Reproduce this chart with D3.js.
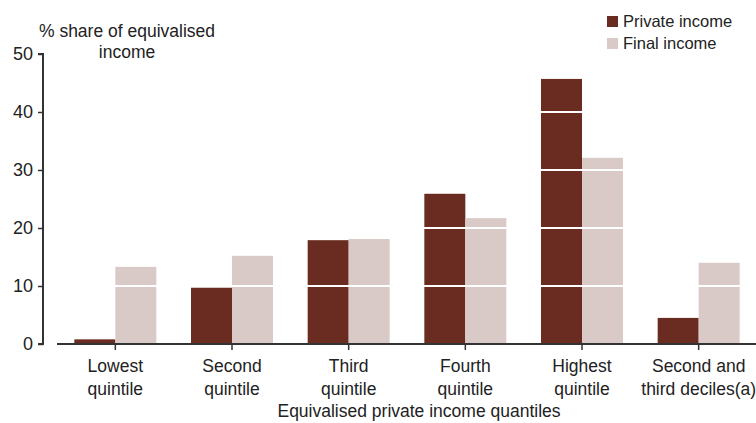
<!DOCTYPE html>
<html>
<head>
<meta charset="utf-8">
<script src="https://cdn.jsdelivr.net/npm/d3@7"></script>
<style>
  body { margin: 0; background: #fff; }
  text { font-family: "Liberation Sans", Arial, sans-serif; fill: #222; }
</style>
</head>
<body>
<svg id="chart" width="756" height="423"></svg>
<script>
// categories (two-line labels)
var categories = ["Lowest quintile", "Second quintile", "Third quintile", "Fourth quintile", "Highest quintile", "Second and third deciles(a)"]
var labelLines = [["Lowest", "quintile"], ["Second", "quintile"], ["Third", "quintile"], ["Fourth", "quintile"], ["Highest", "quintile"], ["Second and", "third deciles(a)"]]
var privateIncome = [0.8, 9.7, 17.9, 25.9, 45.7, 4.5]
var finalIncome = [13.3, 15.2, 18.1, 21.7, 32.1, 14.0]
var series = ["Private income", "Final income"]
var yTicks = [0, 10, 20, 30, 40, 50]

var colors = { "Private income": "#6a2b20", "Final income": "#d9c9c7" }

var svg = d3.select("#chart")
var plotLeft = 57, plotRight = 757, plotTop = 54, plotBottom = 344

var x = d3.scaleBand().domain(categories).range([plotLeft, plotRight])
var y = d3.scaleLinear().domain([0, 50]).range([plotBottom, plotTop])

// two bars of 41px side by side, centred in each band
var barW = 41
var rows = categories.map(function (c, i) {
  return { cat: c, vals: [privateIncome[i], finalIncome[i]] }
})

svg.append("g")
  .selectAll("g.cat")
  .data(rows)
  .enter()
  .append("g")
  .attr("class", "cat")
  .attr("transform", function (d) { return "translate(" + (x(d.cat) + x.bandwidth() / 2) + ",0)" })
  .selectAll("rect")
  .data(function (d) { return d.vals.map(function (v, j) { return { s: series[j], v: v, j: j } }) })
  .enter()
  .append("rect")
  .attr("x", function (d) { return d.j == 0 ? -barW : 0 })
  .attr("width", barW)
  .attr("y", function (d) { return y(d.v) })
  .attr("height", function (d) { return plotBottom - y(d.v) })
  .attr("fill", function (d) { return colors[d.s] })

// white gridlines drawn over bars
svg.append("g")
  .selectAll("line")
  .data(yTicks.filter(function (t) { return t > 0 && t < 50 }))
  .enter()
  .append("line")
  .attr("x1", plotLeft).attr("x2", plotRight)
  .attr("y1", function (d) { return y(d) }).attr("y2", function (d) { return y(d) })
  .attr("stroke", "#fff").attr("stroke-width", 2)

// y axis
var yAxis = d3.axisLeft(y).tickValues(yTicks).tickSize(5).tickPadding(5)
var ya = svg.append("g").attr("transform", "translate(43,0)").call(yAxis)
ya.select(".domain").attr("d", "M-5," + plotTop + "H0V" + plotBottom + "H-5").attr("stroke", "#333").attr("stroke-width", 2)
ya.selectAll(".tick line").attr("stroke", "#333").attr("stroke-width", 1.5)
ya.selectAll(".tick text").style("font-size", "18px").attr("fill", "#222")

// x axis
var xAxis = d3.axisBottom(x).tickSize(6).tickFormat("")
var xa = svg.append("g").attr("transform", "translate(0," + plotBottom + ")").call(xAxis)
xa.select(".domain").attr("d", "M" + plotLeft + ",0H" + plotRight).attr("stroke", "#333").attr("stroke-width", 2)
xa.selectAll(".tick line").attr("stroke", "#333").attr("stroke-width", 1.5)

svg.append("g")
  .selectAll("text")
  .data(categories)
  .enter()
  .append("text")
  .attr("x", function (d) { return x(d) + x.bandwidth() / 2 })
  .attr("y", 372)
  .attr("text-anchor", "middle")
  .style("font-size", "17.5px")
  .each(function (d, i) {
    var t = d3.select(this)
    labelLines[i].forEach(function (line, k) {
      t.append("tspan").attr("x", x(d) + x.bandwidth() / 2).attr("dy", k == 0 ? 0 : 23).text(line)
    })
  })

// axis titles
svg.append("text").attr("x", 419).attr("y", 417).attr("text-anchor", "middle")
  .style("font-size", "17.5px").text("Equivalised private income quantiles")
var yt = svg.append("text").attr("x", 127).attr("y", 37).attr("text-anchor", "middle").style("font-size", "17.5px")
yt.append("tspan").attr("x", 127).text("% share of equivalised")
yt.append("tspan").attr("x", 127).attr("dy", 21).text("income")

// legend
var lg = svg.append("g").attr("transform", "translate(607,16)")
series.forEach(function (s, i) {
  lg.append("rect").attr("x", 0).attr("y", i * 22).attr("width", 11).attr("height", 11).attr("fill", colors[s])
  lg.append("text").attr("x", 16).attr("y", i * 22 + 11).style("font-size", "16.5px").text(s)
})
</script>
</body>
</html>
